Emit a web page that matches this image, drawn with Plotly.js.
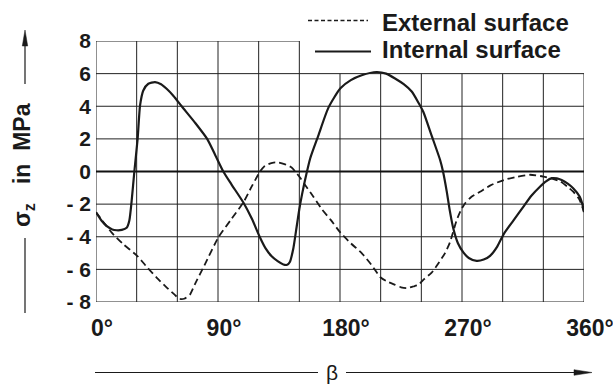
<!DOCTYPE html>
<html>
<head>
<meta charset="utf-8">
<script src="https://cdn.plot.ly/plotly-3.0.1.min.js"></script>
<style>html,body{margin:0;padding:0;background:#fff;}#chart{width:613px;height:385px;}</style>
</head>
<body>
<div id="chart"></div>
<script>
// ---- data ----
var seriesNames = ["External surface", "Internal surface"];

var externalBeta = [0, 5, 11.6, 20, 30.7, 38, 44.7, 52, 58, 61.5, 65, 69.3, 73, 80, 90.2, 100, 108.7, 115, 121, 124, 127.1, 131, 134.5, 139, 144.3, 147, 150.5, 154, 160, 166.5, 173, 180.3, 188, 196, 203, 210, 215, 220.6, 225, 229.2, 234, 237.8, 242, 247.6, 252, 257.5, 261.1, 266, 269, 272.2, 277, 283.3, 291, 300.9, 310, 320.2, 330, 337, 342.7, 348, 352, 356.5, 360];
var externalSigma = [-2.5, -3.05, -3.75, -4.45, -5.2, -5.9, -6.5, -7.1, -7.55, -7.8, -7.8, -7.55, -6.9, -5.75, -4.05, -2.9, -1.9, -0.9, 0, 0.3, 0.45, 0.55, 0.55, 0.45, 0.25, 0.0, -0.37, -0.8, -1.5, -2.3, -2.95, -3.75, -4.4, -5.0, -5.7, -6.5, -6.75, -6.95, -7.1, -7.15, -7.05, -6.95, -6.6, -6.2, -5.7, -5.0, -4.34, -3.0, -2.4, -1.96, -1.55, -1.24, -0.85, -0.52, -0.33, -0.2, -0.31, -0.45, -0.62, -0.95, -1.24, -1.7, -2.48];

var internalBeta = [0, 4, 8, 12, 15.2, 19, 22.6, 24.6, 26.3, 28.3, 30.7, 32.5, 34.9, 38.6, 43.5, 48, 52.1, 57, 63.2, 73, 82, 88, 93.9, 100, 108.7, 115, 121, 125, 129.6, 134, 138.2, 141, 143, 145.6, 148, 150, 152, 154, 158, 164, 171.4, 180.3, 188, 196, 207, 214, 220.6, 227, 232.9, 238, 241.5, 247.6, 253.8, 256, 258.7, 261, 263.6, 267, 271, 275, 280.8, 286, 290.7, 296, 300.9, 308, 315.2, 321, 327.5, 332, 336.2, 340, 343.5, 348, 352, 356.9, 358.8, 360];
var internalSigma = [-2.5, -3.0, -3.35, -3.55, -3.6, -3.58, -3.45, -3.0, -1.8, 0, 2.0, 4.05, 4.97, 5.38, 5.48, 5.35, 5.07, 4.65, 4.0, 3.0, 2.0, 1.0, 0, -0.8, -1.9, -2.9, -4.05, -4.7, -5.2, -5.5, -5.7, -5.72, -5.55, -4.7, -3.4, -2.3, -1.4, -0.6, 0.8, 2.2, 3.9, 5.1, 5.6, 5.9, 6.1, 6.0, 5.7, 5.35, 4.9, 4.2, 3.65, 2.2, 0.72, 0, -1.2, -2.4, -3.5, -4.4, -4.96, -5.3, -5.48, -5.4, -5.17, -4.6, -3.82, -3.0, -2.17, -1.5, -0.93, -0.6, -0.41, -0.42, -0.52, -0.75, -1.03, -1.55, -2.0, -2.48];

var xTickVals = [0, 90, 180, 270, 360];
var xTickText = ["0°", "90°", "180°", "270°", "360°"];
var xGrid = [0, 30, 60, 90, 120, 150, 180, 210, 240, 270, 300, 330, 360];
var yTickVals = [-8, -6, -4, -2, 0, 2, 4, 6, 8];
var yTickText = ["- 8", "- 6", "- 4", "- 2", "0", "2", "4", "6", "8"];
var yTitle = "σ<sub>z</sub>\u00A0\u00A0\u00A0in\u00A0\u00A0MPa";
var xTitle = "β";

// ---- layout helpers (pixel -> paper) ----
var ML = 96, MT = 41, PW = 488, PH = 261;
function px(x) { return (x - ML) / PW; }
function py(y) { return (MT + PH - y) / PH; }

var FONT = "Liberation Sans, Arial, Helvetica, sans-serif";
var INK = "#1a1a1a";

var shapes = [];
// grid: vertical lines (upper-right corner left open for the legend)
xGrid.forEach(function (g) {
  shapes.push({type: "line", xref: "x", yref: "y", x0: g, x1: g, y0: yTickVals[0],
    y1: g <= 150 ? yTickVals[yTickVals.length - 1] : yTickVals[yTickVals.length - 2],
    line: {color: "#222", width: 1}, layer: "below"});
});
yTickVals.forEach(function (g) {
  shapes.push({type: "line", xref: "x", yref: "y", y0: g, y1: g, x0: xGrid[0],
    x1: g === yTickVals[yTickVals.length - 1] ? 150 : xGrid[xGrid.length - 1],
    line: {color: g === 0 ? "#111" : "#222", width: g === 0 ? 2.2 : 1}, layer: "below"});
});

// y-axis title arrow lines
shapes.push({type: "line", xref: "paper", yref: "paper", x0: px(25), x1: px(25), y0: py(238), y1: py(313), line: {color: INK, width: 1.2}});
shapes.push({type: "line", xref: "paper", yref: "paper", x0: px(25), x1: px(25), y0: py(84), y1: py(44), line: {color: INK, width: 1.2}});
shapes.push({type: "path", xref: "paper", yref: "paper",
  path: "M" + px(25) + "," + py(30) + " L" + px(22.3) + "," + py(46) + " L" + px(27.7) + "," + py(46) + " Z",
  fillcolor: INK, line: {color: INK, width: 0.5}});
// x-axis title arrow lines
shapes.push({type: "line", xref: "paper", yref: "paper", x0: px(95), x1: px(318), y0: py(372.5), y1: py(372.5), line: {color: INK, width: 1.2}});
shapes.push({type: "line", xref: "paper", yref: "paper", x0: px(346), x1: px(578), y0: py(372.5), y1: py(372.5), line: {color: INK, width: 1.2}});
shapes.push({type: "path", xref: "paper", yref: "paper",
  path: "M" + px(592) + "," + py(372.5) + " L" + px(574) + "," + py(369.7) + " L" + px(574) + "," + py(375.3) + " Z",
  fillcolor: INK, line: {color: INK, width: 0.5}});
// legend samples
shapes.push({type: "line", xref: "paper", yref: "paper", x0: px(308), x1: px(368), y0: py(20.5), y1: py(20.5), line: {color: INK, width: 1.3, dash: "4px,2.5px"}});
shapes.push({type: "line", xref: "paper", yref: "paper", x0: px(315), x1: px(371), y0: py(51.5), y1: py(51.5), line: {color: INK, width: 1.8}});

var annotations = [
  {xref: "paper", yref: "paper", x: px(23), y: py(165), text: yTitle, textangle: -90, showarrow: false,
   xanchor: "center", yanchor: "middle", font: {family: FONT, size: 23, color: INK, weight: "bold"}},
  {xref: "paper", yref: "paper", x: px(332), y: py(372), text: xTitle, showarrow: false,
   xanchor: "center", yanchor: "middle", font: {family: FONT, size: 21, color: INK}},
  {xref: "paper", yref: "paper", x: px(380), y: py(22), text: seriesNames[0], showarrow: false,
   xanchor: "left", yanchor: "middle", font: {family: FONT, size: 24, color: INK, weight: "bold"}},
  {xref: "paper", yref: "paper", x: px(380), y: py(50), text: seriesNames[1], showarrow: false,
   xanchor: "left", yanchor: "middle", font: {family: FONT, size: 24, color: INK, weight: "bold"}}
];

var traces = [
  {x: externalBeta, y: externalSigma, name: seriesNames[0], type: "scatter", mode: "lines",
   line: {color: INK, width: 1.8, dash: "7px,4px", shape: "spline", smoothing: 0.6}, showlegend: false},
  {x: internalBeta, y: internalSigma, name: seriesNames[1], type: "scatter", mode: "lines",
   line: {color: INK, width: 2.2, shape: "spline", smoothing: 0.6}, showlegend: false}
];

var layout = {
  width: 613, height: 385,
  margin: {l: ML, r: 613 - ML - PW, t: MT, b: 385 - MT - PH, pad: 0},
  paper_bgcolor: "#fff", plot_bgcolor: "#fff",
  showlegend: false,
  xaxis: {range: [0, 360], showgrid: false, zeroline: false, showline: false, ticks: "",
    tickmode: "array", tickvals: xTickVals, ticktext: xTickText, ticklabelshift: 6, ticklabelstandoff: 10,
    ticklabeloverflow: "allow",
    tickfont: {family: FONT, size: 23, color: INK, weight: "bold"}, fixedrange: true},
  yaxis: {range: [-8, 8], showgrid: false, zeroline: false, showline: false, ticks: "",
    tickmode: "array", tickvals: yTickVals, ticktext: yTickText, ticklabelstandoff: 4,
    tickfont: {family: FONT, size: 21, color: INK, weight: "bold"}, fixedrange: true},
  shapes: shapes,
  annotations: annotations
};

Plotly.newPlot("chart", traces, layout, {staticPlot: true, displayModeBar: false});
</script>
</body>
</html>
